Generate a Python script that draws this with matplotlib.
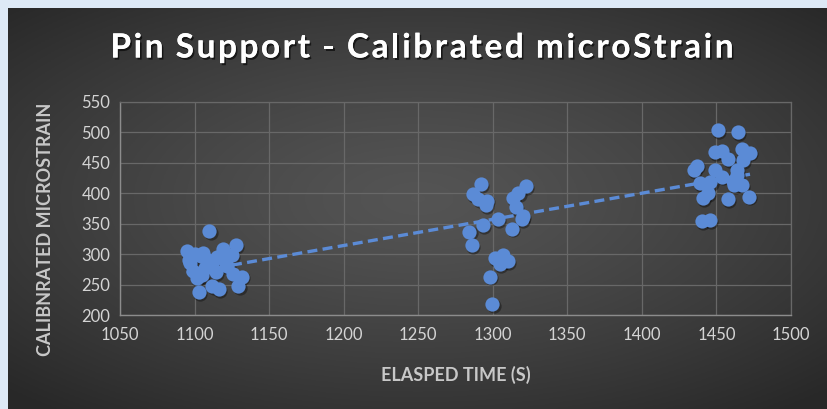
import numpy as np
import matplotlib

matplotlib.use("Agg")
import matplotlib.pyplot as plt
import matplotlib.patheffects as pe
from matplotlib.transforms import offset_copy

plt.rcParams["font.family"] = ["Lato", "DejaVu Sans"]

# Values (elapsed seconds, calibrated microstrain).
elapsed_s = [
    1110, 1094.7, 1100.3, 1105.4, 1118.8, 1127.5, 1124.8, 1097, 1112.6, 1120.4,
    1099, 1107, 1114.4, 1126, 1132, 1101.4, 1103, 1112, 1116.5, 1129.4,
    1104, 1108, 1115, 1122, 1105, 1096,
    1291.9, 1286.5, 1290.3, 1296.3, 1295.5, 1322.3, 1317.2, 1313.7, 1315.3, 1303.3,
    1293.2, 1319.3, 1312.6, 1284.3, 1285.9, 1301.5, 1306.7, 1310.4, 1304.8, 1298.2,
    1299.8, 1308, 1320,
    1450.8, 1464.6, 1449, 1453.5, 1466.9, 1472.5, 1458, 1468, 1436.7, 1435,
    1448.8, 1463.6, 1453.5, 1463.6, 1438.7, 1446, 1461, 1462, 1444.4, 1441,
    1457.8, 1471.6, 1440, 1445.6, 1467,
]
microstrain = [
    338, 305, 301, 302, 308, 315, 298, 285, 288, 288,
    273, 277, 270, 267, 263, 260, 237, 247, 242, 247,
    297, 292, 295, 280, 265, 290,
    415, 399, 390, 388, 381, 412, 400, 392, 377, 358,
    348, 357, 342, 337, 315, 293, 299, 288, 283, 263,
    218, 290, 362,
    504, 500, 468, 469.5, 473, 467, 456, 455, 445.5, 438,
    438, 438, 427.5, 430, 416.4, 419, 420, 413.6, 400, 391.7,
    391, 394.7, 354.5, 356, 413,
]
x_ticks = list(range(1050, 1501, 50))
y_ticks = list(range(200, 551, 50))

title = "Pin Support - Calibrated microStrain"
x_label = "ELASPED TIME (S)"
y_label = "CALIBNRATED MICROSTRAIN"

blue = "#5b8bd6"
tick_color = "#d4d4d4"
grid_color = "#686868"

fig = plt.figure(figsize=(8.28, 4.09), dpi=100)
fig.patch.set_facecolor("#dde9f6")

# Dark radial-gradient panel behind the chart.
bg = fig.add_axes([8 / 828, 0, 820 / 828, 401 / 409])
gx, gy = np.meshgrid(np.linspace(-1, 1, 400), np.linspace(-1, 1, 200))
r = np.sqrt((gx / 1.05) ** 2 + ((gy + 0.05) / 1.0) ** 2)
shade = 0.33 - 0.17 * np.clip(r / 1.35, 0, 1) ** 1.3
bg.imshow(np.dstack([shade] * 3), aspect="auto", extent=[0, 1, 0, 1])
bg.set_axis_off()

ax = fig.add_axes([120 / 828, 1 - 315 / 409, 671 / 828, 213 / 409])
ax.patch.set_alpha(0)

x = np.array(elapsed_s)
y = np.array(microstrain)

shadow_tr = offset_copy(ax.transData, fig=fig, x=1.2, y=-1.8, units="dots")
ax.scatter(x, y, s=105, color="black", alpha=0.35, linewidths=0,
           transform=shadow_tr, zorder=2)
ax.scatter(x, y, s=105, color=blue, linewidths=0, zorder=3)

k, b = np.polyfit(x, y, 1)
tx = np.array([x.min(), x.max()])
ax.plot(tx, k * tx + b, color=blue, lw=2.4, dashes=(3, 1.6), zorder=4,
        solid_capstyle="butt", dash_capstyle="butt")

ax.set_xlim(1050, 1500)
ax.set_ylim(200, 550)
ax.set_xticks(x_ticks)
ax.set_yticks(y_ticks)
ax.grid(True, color=grid_color, lw=0.9)
ax.set_axisbelow(True)
for side in ["top", "right"]:
    ax.spines[side].set_color(grid_color)
    ax.spines[side].set_linewidth(0.9)
for side in ["left", "bottom"]:
    ax.spines[side].set_color("#8c8c8c")
    ax.spines[side].set_linewidth(1.0)
ax.tick_params(length=0, colors=tick_color, labelsize=12)
ax.tick_params(axis="x", pad=9)
ax.tick_params(axis="y", pad=7)

ax.set_xlabel(x_label, color="#c8c8c8", fontsize=13, fontweight="bold",
              labelpad=16)
ax.set_ylabel(y_label, color="#c8c8c8", fontsize=13, fontweight="bold")
ax.yaxis.set_label_coords(-0.098, 0.40)

# Title with extra letter spacing: place each glyph by its measured width.
renderer = fig.canvas.get_renderer()
shadow = [pe.withSimplePatchShadow(offset=(1.2, -1.5), shadow_rgbFace="black",
                                   alpha=0.6), pe.Normal()]
spacing = 2.6
chars = []
for ch in title:
    t = fig.text(0, 1 - 48 / 409, ch, color="white", fontsize=24,
                 fontweight="bold", ha="left", va="center", path_effects=shadow)
    w = t.get_window_extent(renderer).width if ch != " " else 7
    chars.append((t, w))
total = sum(w for _, w in chars) + spacing * (len(chars) - 1)
pos = 422 - total / 2
for t, w in chars:
    t.set_x(pos / 828)
    pos += w + spacing

fig.savefig("out.png", dpi=100, facecolor=fig.get_facecolor())
